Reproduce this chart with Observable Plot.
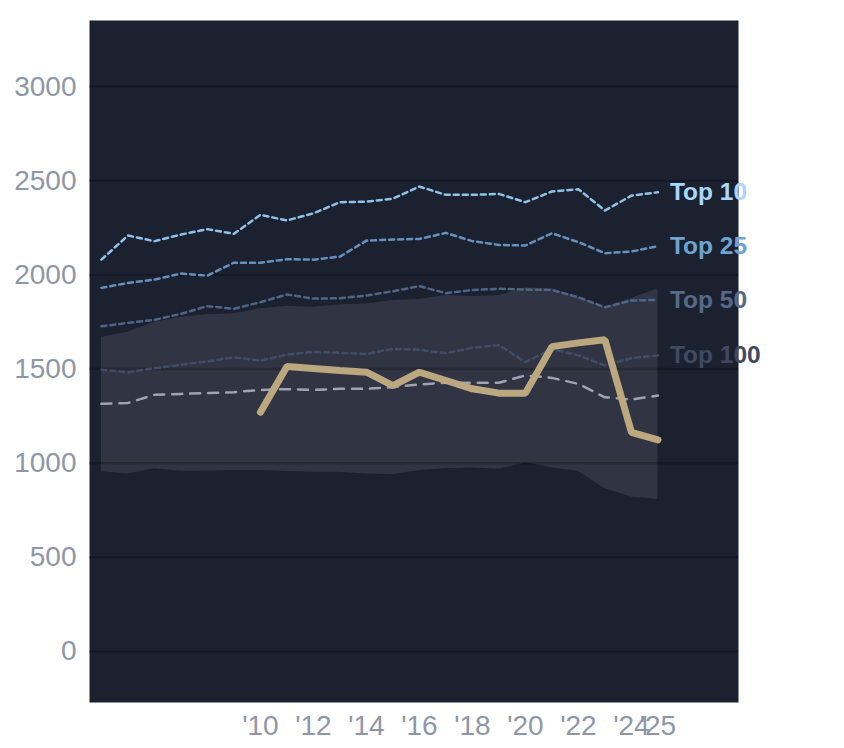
<!DOCTYPE html>
<html>
<head>
<meta charset="utf-8">
<script src="https://cdn.jsdelivr.net/npm/d3@7"></script>
<script src="https://cdn.jsdelivr.net/npm/@observablehq/plot@0.6"></script>
<style>
  html, body { margin: 0; padding: 0; background: white; }
</style>
</head>
<body>
<div id="chart"></div>
<script>
const years = [2004, 2005, 2006, 2007, 2008, 2009, 2010, 2011, 2012, 2013, 2014, 2015, 2016, 2017, 2018, 2019, 2020, 2021, 2022, 2023, 2024, 2025];
const top10  = [2081, 2209, 2179, 2214, 2243, 2218, 2319, 2289, 2327, 2386, 2389, 2405, 2469, 2425, 2425, 2430, 2386, 2443, 2455, 2342, 2421, 2439];
const top25  = [1931, 1957, 1975, 2007, 1996, 2065, 2065, 2083, 2081, 2097, 2182, 2188, 2191, 2223, 2179, 2159, 2156, 2221, 2174, 2115, 2124, 2152];
const top50  = [1727, 1745, 1761, 1793, 1834, 1820, 1855, 1896, 1874, 1876, 1890, 1913, 1940, 1903, 1920, 1926, 1922, 1920, 1881, 1828, 1864, 1867];
const top100 = [1496, 1483, 1504, 1522, 1541, 1562, 1545, 1577, 1591, 1586, 1580, 1607, 1602, 1584, 1613, 1627, 1537, 1607, 1572, 1519, 1558, 1572];
const median = [1315, 1320, 1363, 1368, 1372, 1377, 1389, 1393, 1389, 1395, 1395, 1404, 1418, 1427, 1427, 1427, 1466, 1453, 1421, 1350, 1338, 1359];
const bandLow  = [956, 943, 970, 957, 957, 961, 961, 956, 952, 952, 943, 940, 961, 970, 974, 968, 1002, 976, 956, 864, 820, 807];
const bandHigh = [1669, 1696, 1749, 1775, 1788, 1793, 1820, 1834, 1828, 1842, 1846, 1864, 1869, 1890, 1885, 1890, 1931, 1926, 1881, 1828, 1874, 1926];
const playerYears = [2010, 2011, 2012, 2013, 2014, 2015, 2016, 2017, 2018, 2019, 2020, 2021, 2022, 2023, 2024, 2025];
const player = [1271, 1513, 1503, 1492, 1483, 1412, 1483, 1439, 1395, 1372, 1372, 1619, 1639, 1655, 1164, 1124];
const xTicks = [2010, 2012, 2014, 2016, 2018, 2020, 2022, 2024, 2025];
const yTicks = [0, 500, 1000, 1500, 2000, 2500, 3000];
const tierNames = ["Top 10", "Top 25", "Top 50", "Top 100"];
const tierLine  = ["#8ec3ea", "#6690bd", "#4f6585", "#414d66"];
const tierLabel = ["#a8d6fc", "#6fa3d2", "#57698a", "#3f4a62"];

const band = years.map((year, i) => ({year, low: bandLow[i], high: bandHigh[i]}));
const tierSeries = [top10, top25, top50, top100];
const tiers = tierNames.map((name, k) => years.map((year, i) => ({year, value: tierSeries[k][i], name})));
const med = years.map((year, i) => ({year, value: median[i]}));
const pl = playerYears.map((year, i) => ({year, value: player[i]}));
const labels = tierNames.map((name, k) => ({year: years[years.length - 1], value: tierSeries[k][years.length - 1], name, color: tierLabel[k]}));

const font = "'Liberation Sans', Arial, Helvetica, sans-serif";
const tickColor = "#8f97a7";

const chart = Plot.plot({
  width: 844,
  height: 748,
  marginLeft: 89,
  marginRight: 106,
  marginTop: 20,
  marginBottom: 46,
  style: {fontFamily: font, background: "white", overflow: "visible"},
  x: {domain: [2003.55, 2028.04]},
  y: {domain: [-271, 3351]},
  marks: [
    Plot.frame({fill: "#1c2130", stroke: null}),
    Plot.areaY(band, {x: "year", y1: "low", y2: "high", fill: "#313543"}),
    Plot.ruleY(yTicks, {stroke: "#000000", strokeOpacity: 0.22, strokeWidth: 2.5}),
    ...tiers.slice().reverse().map((d, j) => {
      const k = 3 - j;
      return Plot.line(d, {x: "year", y: "value", stroke: tierLine[k], strokeWidth: 2.5, strokeDasharray: "5,4"});
    }),
    Plot.line(med, {x: "year", y: "value", stroke: "#9ea4b0", strokeWidth: 2.5, strokeDasharray: "10,8"}),
    Plot.line(pl, {x: "year", y: "value", stroke: "#bba87e", strokeWidth: 7, strokeLinejoin: "miter"}),
    Plot.text(labels, {x: "year", y: "value", text: "name", fill: "color", dx: 12, textAnchor: "start", fontSize: 24.5, fontWeight: "bold", fontFamily: font}),
    Plot.axisX({ticks: xTicks, tickFormat: d => "'" + String(d).slice(2), tickSize: 0, tickPadding: 13, fontSize: 28, color: tickColor, label: null}),
    Plot.axisY({ticks: yTicks, tickFormat: d => String(d), tickSize: 0, tickPadding: 13, fontSize: 28, color: tickColor, label: null})
  ]
});
document.getElementById("chart").appendChild(chart);
</script>
</body>
</html>
